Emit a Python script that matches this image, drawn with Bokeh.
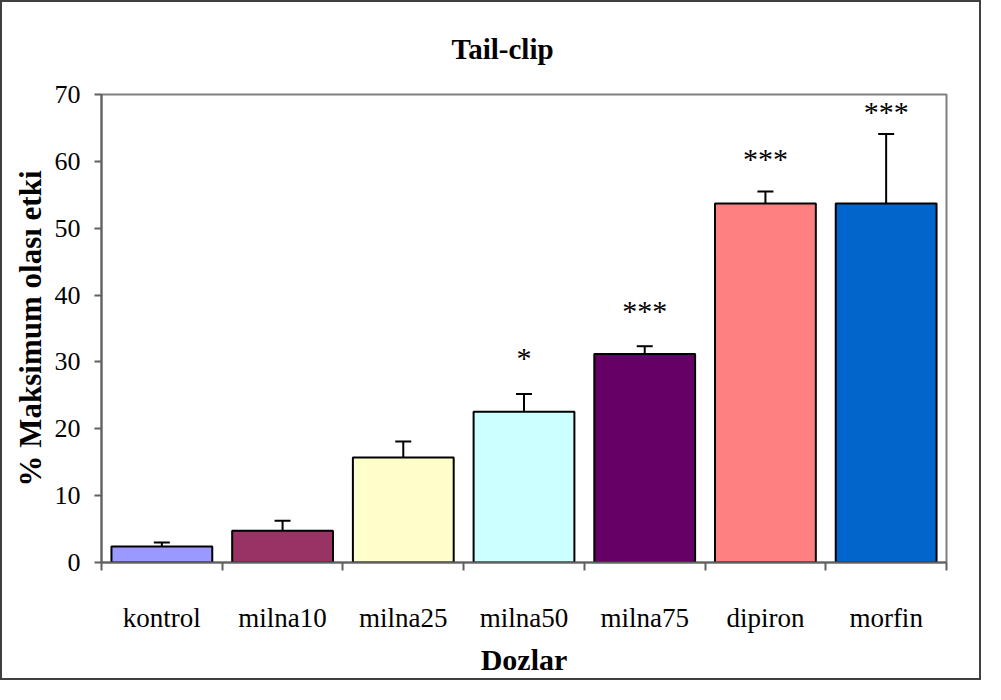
from bokeh.plotting import figure
from bokeh.models import (Range1d, FixedTicker, SingleIntervalTicker, Whisker,
                          TeeHead, ColumnDataSource)
from bokeh.core.properties import value
from bokeh.embed import file_html
from bokeh.resources import INLINE

# ---- data ----
categories = ["kontrol", "milna10", "milna25", "milna50", "milna75", "dipiron", "morfin"]
means = [2.4, 4.75, 15.7, 22.55, 31.2, 53.7, 53.7]
sems = [0.6, 1.5, 2.4, 2.65, 1.15, 1.8, 10.4]
colors = ["#9999FF", "#993366", "#FFFFCC", "#CCFFFF", "#660066", "#FF8080", "#0066CC"]
stars = ["", "", "", "*", "***", "***", "***"]
star_y = [float("nan"), float("nan"), float("nan"), 30.6, 37.7, 60.5, 67.5]

title_text = "Tail-clip"
x_label = "Dozlar"
y_label = "% Maksimum olası etki"

SERIF = "Liberation Serif"
AXIS_GRAY = "#606060"

n = len(categories)
centers = [i + 0.5 for i in range(n)]
edges = list(range(n + 1))
upper = [m + s for m, s in zip(means, sems)]
src = ColumnDataSource(dict(x=centers, top=means, upper=upper, color=colors))
star_src = ColumnDataSource(dict(
    x=[c for c, s in zip(centers, stars) if s],
    y=[y for y, s in zip(star_y, stars) if s],
    text=[s for s in stars if s]))

p = figure(x_range=Range1d(0, n), y_range=Range1d(0, 70),
           width=981, height=680, output_backend="svg", toolbar_location=None,
           x_axis_location="below", y_axis_location="left",
           min_border_left=99, min_border_right=37, min_border_top=92, min_border_bottom=120)

p.styles = {"border": "2px solid #404040"}
p.background_fill_color = "white"
p.border_fill_color = "white"
p.outline_line_color = "#808080"
p.outline_line_width = 2
p.xgrid.visible = False
p.ygrid.visible = False

# title
p.title.text = title_text
p.title.align = "left"
p.title.offset = 350
p.title.vertical_align = "top"
p.title.text_font = SERIF
p.title.text_font_style = "bold"
p.title.text_font_size = "29px"
p.title.text_color = "black"
p.title.standoff = 56

# bars
p.vbar(x="x", top="top", bottom=0, width=0.835, source=src, fill_color="color",
       line_color="black", line_width=2)

# error bars (upper only)
p.add_layout(Whisker(base="x", lower="top", upper="upper", source=src,
                     lower_head=None,
                     upper_head=TeeHead(size=16, line_color="black", line_width=2),
                     line_color="black", line_width=2))

# significance stars
p.text(x="x", y="y", text="text", source=star_src, text_align="center",
       text_baseline="middle", text_font=value(SERIF), text_font_size="30px",
       text_color="black")

# y axis
yax = p.yaxis[0]
yax.ticker = SingleIntervalTicker(interval=10)
yax.axis_line_color = AXIS_GRAY
yax.axis_line_width = 2
yax.major_tick_line_color = AXIS_GRAY
yax.major_tick_line_width = 2
yax.major_tick_out = 7
yax.major_tick_in = 0
yax.minor_tick_line_color = None
yax.major_label_text_font = SERIF
yax.major_label_text_font_size = "26px"
yax.major_label_text_color = "black"
yax.major_label_standoff = 14
yax.axis_label = y_label
yax.axis_label_text_font = SERIF
yax.axis_label_text_font_style = "bold"
yax.axis_label_text_font_size = "31px"
yax.axis_label_text_color = "black"
yax.axis_label_standoff = 4

# x axis: labels at category centers, boundary tick marks as minor ticks
xax = p.xaxis[0]
xax.ticker = FixedTicker(ticks=centers, minor_ticks=edges)
xax.major_label_overrides = {c: cat for c, cat in zip(centers, categories)}
xax.axis_line_color = AXIS_GRAY
xax.axis_line_width = 2
xax.major_tick_line_color = None
xax.major_tick_out = 0
xax.major_tick_in = 0
xax.minor_tick_line_color = AXIS_GRAY
xax.minor_tick_line_width = 2
xax.minor_tick_out = 8
xax.minor_tick_in = 0
xax.major_label_text_font = SERIF
xax.major_label_text_font_size = "27px"
xax.major_label_text_color = "black"
xax.major_label_standoff = 32
xax.axis_label = x_label
xax.axis_label_text_font = SERIF
xax.axis_label_text_font_style = "bold"
xax.axis_label_text_font_size = "30px"
xax.axis_label_text_color = "black"
xax.axis_label_standoff = 7

open("out.html", "w").write(file_html(p, INLINE))
